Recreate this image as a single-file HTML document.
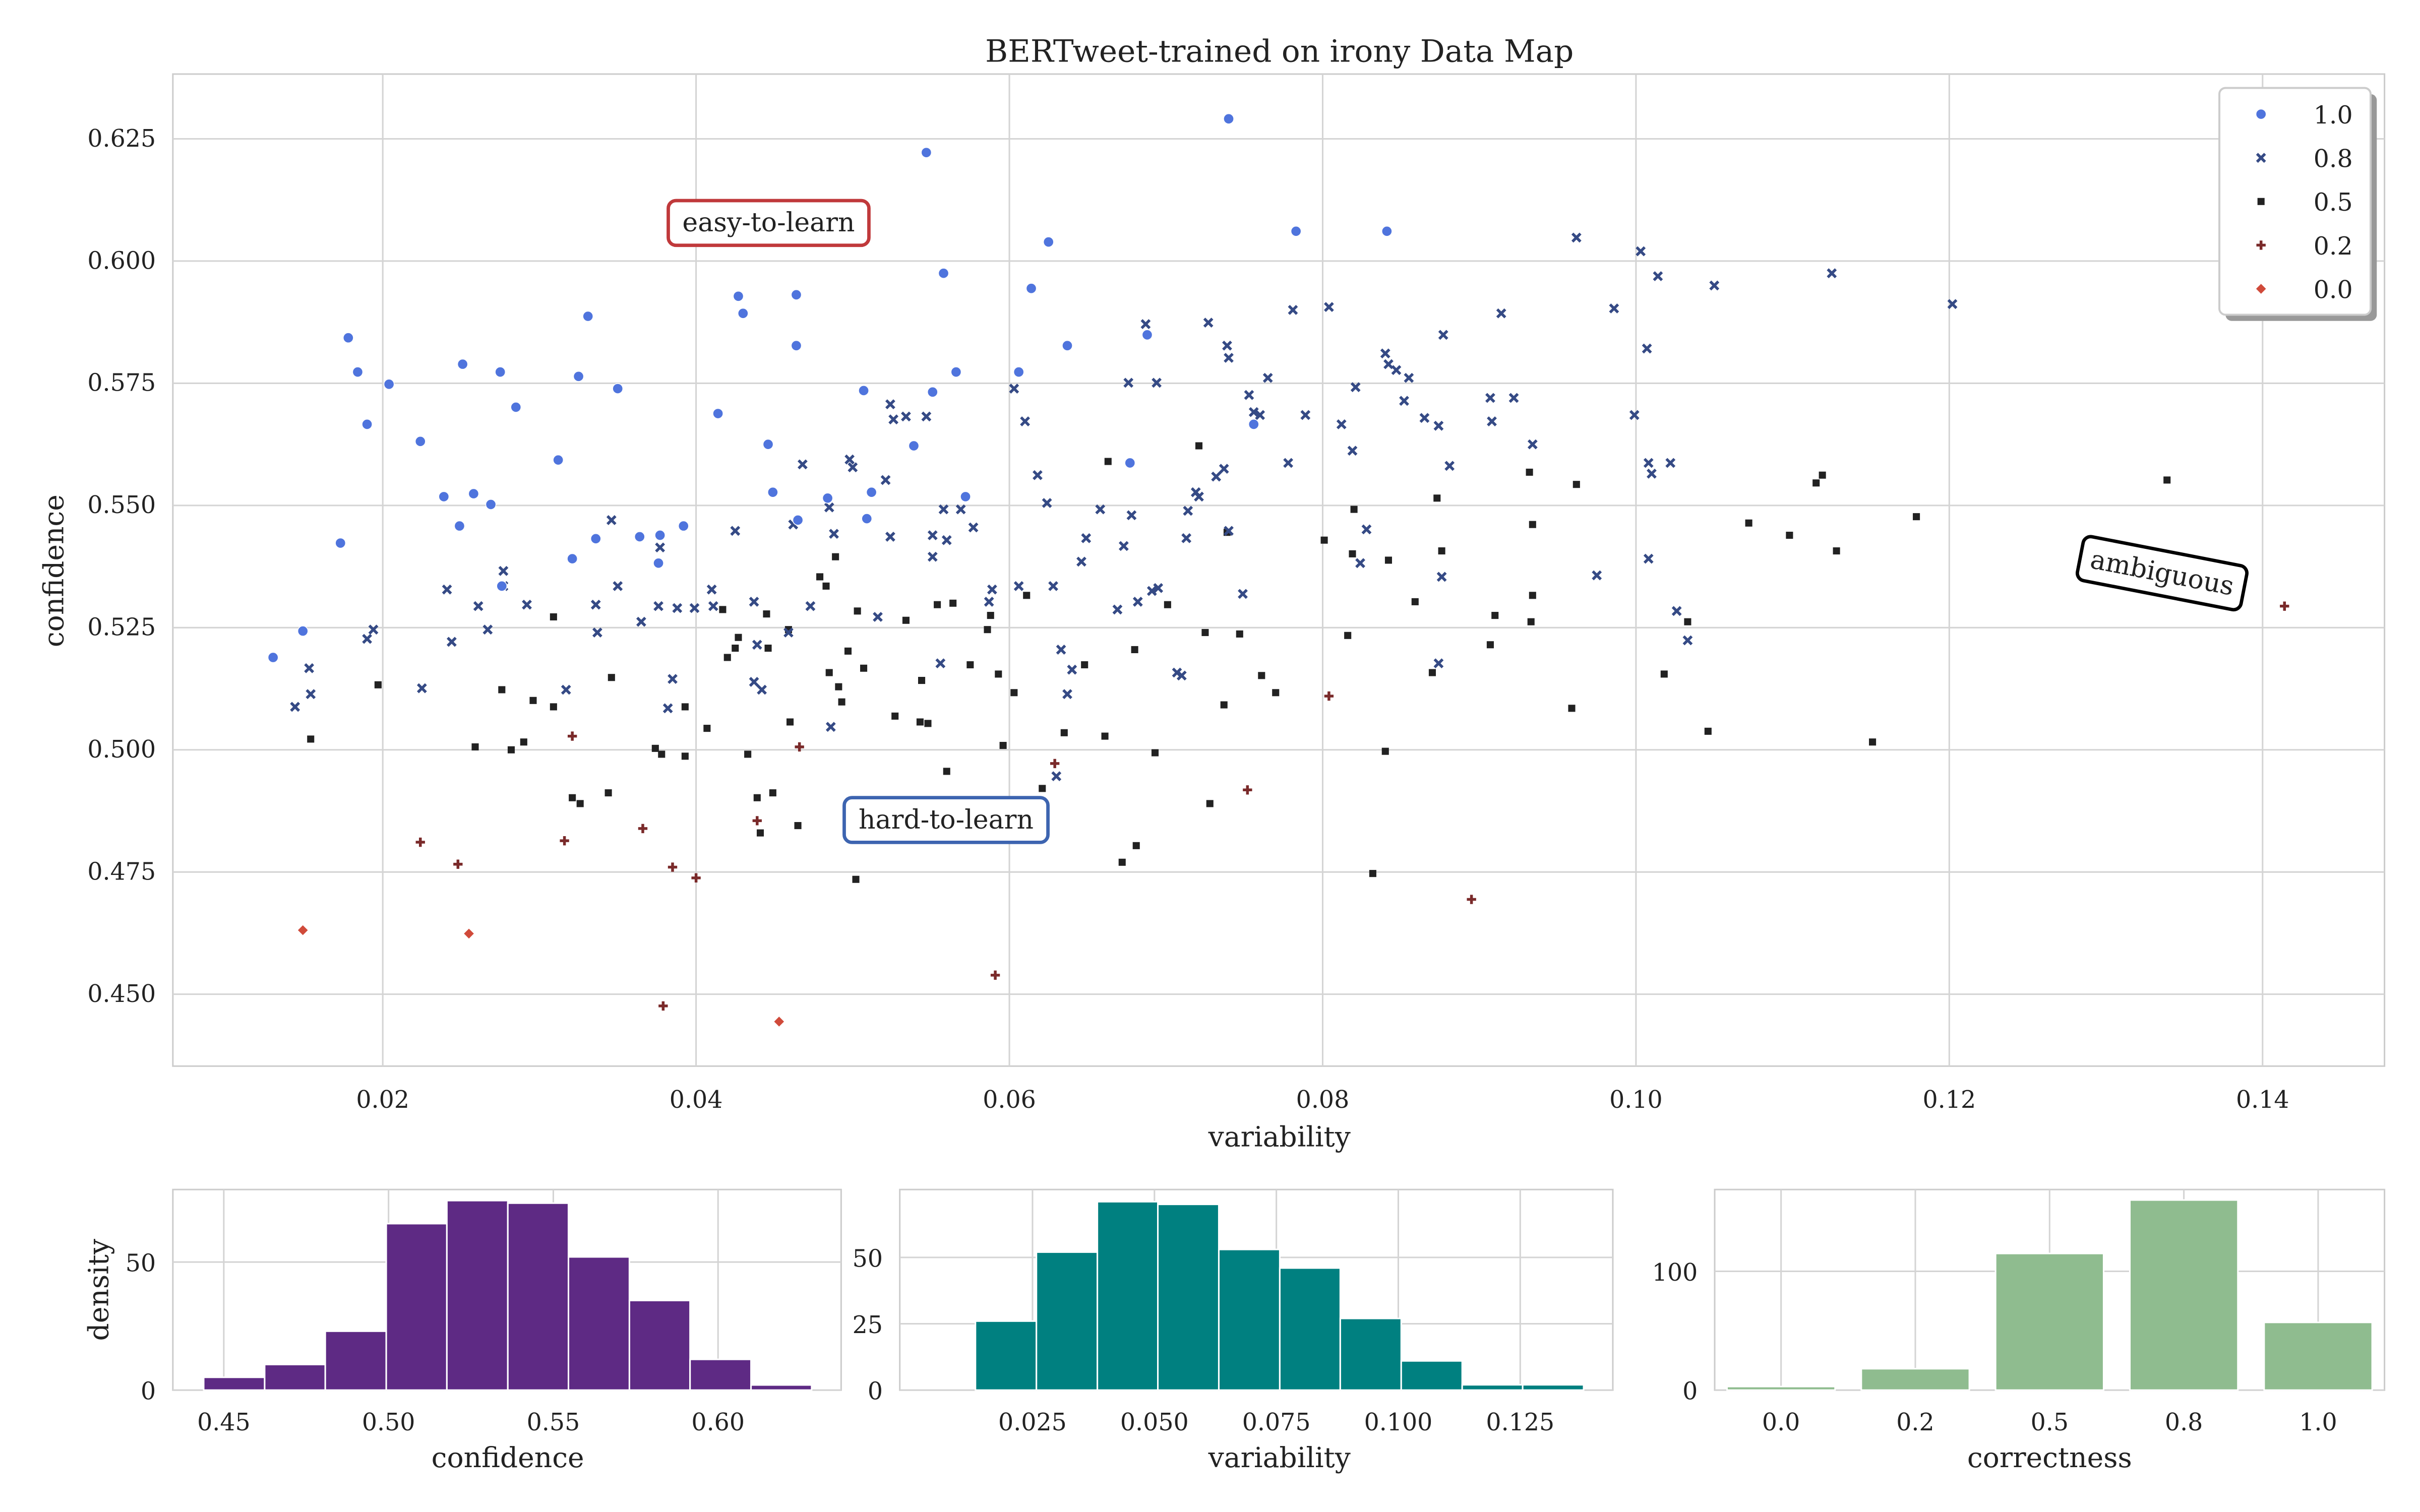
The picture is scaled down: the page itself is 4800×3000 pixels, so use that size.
<!DOCTYPE html>
<html><head><meta charset="utf-8">
<style>
html,body{margin:0;padding:0;background:#fff;}
svg{display:block;}
text{font-family:"DejaVu Serif","Liberation Serif",serif;fill:#222;}
</style></head>
<body>
<svg id="chart" xmlns="http://www.w3.org/2000/svg" width="4800" height="3000" viewBox="0 0 1568 980">
<rect x="0" y="0" width="1568" height="980" fill="#fff"/>
<g id="main"></g>
<g id="h1"></g>
<g id="h2"></g>
<g id="h3"></g>
</svg>
<script>
// ---------- data ----------
const blueX=[0.0130,0.0149,0.0178,0.0184,0.0190,0.0173,0.0204,0.0224,0.0239,0.0249,0.0251,0.0258,0.0269,0.0275,0.0276,0.0285,0.0312,0.0321,0.0325,0.0331,0.0336,0.0350,0.0364,0.0376,0.0377,0.0392,0.0414,0.0427,0.0430,0.0446,0.0449,0.0464,0.0464,0.0465,0.0484,0.0507,0.0509,0.0512,0.0539,0.0547,0.0551,0.0558,0.0566,0.0572,0.0606,0.0614,0.0625,0.0637,0.0677,0.0688,0.0740,0.0756,0.0783,0.0841];
const blueY=[0.5189,0.5243,0.5843,0.5773,0.5666,0.5423,0.5748,0.5631,0.5518,0.5458,0.5789,0.5524,0.5502,0.5773,0.5335,0.5701,0.5593,0.5391,0.5764,0.5887,0.5432,0.5739,0.5436,0.5382,0.5439,0.5458,0.5688,0.5928,0.5893,0.5625,0.5527,0.5827,0.5931,0.5470,0.5515,0.5735,0.5473,0.5527,0.5622,0.6222,0.5732,0.5975,0.5773,0.5518,0.5773,0.5944,0.6039,0.5827,0.5587,0.5849,0.6291,0.5666,0.6061,0.6061];
const navyX=[0.0144,0.0153,0.0154,0.0190,0.0194,0.0225,0.0241,0.0244,0.0267,0.0261,0.0277,0.0277,0.0292,0.0317,0.0336,0.0337,0.0346,0.0350,0.0365,0.0376,0.0377,0.0382,0.0385,0.0388,0.0399,0.0410,0.0411,0.0425,0.0437,0.0437,0.0439,0.0442,0.0459,0.0462,0.0468,0.0473,0.0486,0.0485,0.0488,0.0498,0.0500,0.0516,0.0521,0.0524,0.0524,0.0526,0.0534,0.0551,0.0547,0.0551,0.0556,0.0558,0.0560,0.0569,0.0577,0.0587,0.0589,0.0603,0.0606,0.0610,0.0618,0.0624,0.0628,0.0630,0.0633,0.0637,0.0640,0.0646,0.0649,0.0658,0.0669,0.0673,0.0676,0.0678,0.0682,0.0687,0.0691,0.0695,0.0694,0.0707,0.0710,0.0713,0.0714,0.0719,0.0721,0.0727,0.0732,0.0737,0.0740,0.0739,0.0740,0.0749,0.0753,0.0756,0.0760,0.0765,0.0778,0.0781,0.0789,0.0804,0.0812,0.0819,0.0821,0.0824,0.0828,0.0840,0.0842,0.0847,0.0852,0.0855,0.0865,0.0874,0.0874,0.0876,0.0877,0.0881,0.0907,0.0908,0.0914,0.0922,0.0934,0.0962,0.0975,0.0986,0.0999,0.1003,0.1008,0.1007,0.1010,0.1014,0.1022,0.1026,0.1033,0.1050,0.1125,0.1202,0.1008];
const navyY=[0.5088,0.5167,0.5114,0.5227,0.5246,0.5126,0.5328,0.5221,0.5246,0.5294,0.5335,0.5366,0.5297,0.5123,0.5297,0.5240,0.5470,0.5335,0.5262,0.5294,0.5414,0.5085,0.5145,0.5290,0.5290,0.5328,0.5294,0.5448,0.5139,0.5303,0.5215,0.5123,0.5240,0.5461,0.5584,0.5294,0.5047,0.5496,0.5442,0.5594,0.5578,0.5272,0.5552,0.5707,0.5436,0.5676,0.5682,0.5439,0.5682,0.5395,0.5177,0.5492,0.5429,0.5492,0.5455,0.5303,0.5328,0.5739,0.5335,0.5672,0.5562,0.5505,0.5335,0.4946,0.5205,0.5114,0.5164,0.5385,0.5433,0.5492,0.5287,0.5417,0.5751,0.5480,0.5303,0.5871,0.5325,0.5331,0.5751,0.5158,0.5152,0.5433,0.5489,0.5527,0.5518,0.5874,0.5559,0.5575,0.5448,0.5827,0.5802,0.5319,0.5726,0.5691,0.5685,0.5761,0.5587,0.5900,0.5685,0.5906,0.5666,0.5612,0.5742,0.5382,0.5451,0.5811,0.5789,0.5777,0.5714,0.5761,0.5679,0.5663,0.5177,0.5354,0.5849,0.5581,0.5720,0.5672,0.5893,0.5720,0.5625,0.6048,0.5357,0.5903,0.5685,0.6020,0.5587,0.5821,0.5565,0.5969,0.5587,0.5284,0.5224,0.5950,0.5975,0.5912,0.5391];
const blackX=[0.0154,0.0197,0.0259,0.0276,0.0282,0.0290,0.0296,0.0309,0.0309,0.0321,0.0326,0.0344,0.0346,0.0374,0.0378,0.0393,0.0393,0.0407,0.0417,0.0420,0.0425,0.0427,0.0433,0.0439,0.0441,0.0445,0.0446,0.0449,0.0459,0.0460,0.0465,0.0479,0.0483,0.0485,0.0489,0.0491,0.0493,0.0497,0.0503,0.0502,0.0507,0.0527,0.0534,0.0543,0.0548,0.0544,0.0554,0.0560,0.0564,0.0575,0.0586,0.0588,0.0593,0.0596,0.0603,0.0611,0.0621,0.0635,0.0648,0.0661,0.0663,0.0680,0.0681,0.0693,0.0701,0.0721,0.0725,0.0728,0.0737,0.0739,0.0747,0.0761,0.0770,0.0801,0.0816,0.0820,0.0819,0.0832,0.0840,0.0842,0.0859,0.0870,0.0873,0.0876,0.0907,0.0910,0.0933,0.0934,0.0932,0.0934,0.0959,0.0962,0.1018,0.1033,0.1046,0.1072,0.1098,0.1115,0.1119,0.1128,0.1151,0.1179,0.1339,0.0672];
const blackY=[0.5022,0.5133,0.5006,0.5123,0.5000,0.5016,0.5101,0.5272,0.5088,0.4902,0.4890,0.4912,0.5148,0.5003,0.4991,0.4987,0.5088,0.5044,0.5287,0.5189,0.5208,0.5230,0.4991,0.4902,0.4830,0.5278,0.5208,0.4912,0.5246,0.5057,0.4845,0.5354,0.5335,0.5158,0.5395,0.5129,0.5098,0.5202,0.5284,0.4735,0.5167,0.5069,0.5265,0.5057,0.5054,0.5142,0.5297,0.4956,0.5300,0.5174,0.5246,0.5275,0.5155,0.5009,0.5117,0.5316,0.4921,0.5035,0.5174,0.5028,0.5590,0.5205,0.4804,0.4994,0.5297,0.5622,0.5240,0.4890,0.5092,0.5445,0.5237,0.5152,0.5117,0.5429,0.5234,0.5492,0.5401,0.4747,0.4997,0.5388,0.5303,0.5158,0.5515,0.5407,0.5215,0.5275,0.5262,0.5316,0.5568,0.5461,0.5085,0.5543,0.5155,0.5262,0.5038,0.5464,0.5439,0.5546,0.5562,0.5407,0.5016,0.5477,0.5552,0.4770];
const plusX=[0.0224,0.0248,0.0321,0.0316,0.0366,0.0385,0.0400,0.0379,0.0439,0.0466,0.0591,0.0629,0.0752,0.0804,0.0895,0.1414];
const plusY=[0.4811,0.4766,0.5028,0.4814,0.4839,0.4760,0.4738,0.4476,0.4855,0.5006,0.4539,0.4972,0.4918,0.5110,0.4694,0.5294];
const redX=[0.0149,0.0255,0.0453];
const redY=[0.4631,0.4624,0.4444];
const xTicks=[0.02,0.04,0.06,0.08,0.10,0.12,0.14];
const xTickLabels=["0.02","0.04","0.06","0.08","0.10","0.12","0.14"];
const yTicks=[0.450,0.475,0.500,0.525,0.550,0.575,0.600,0.625];
const yTickLabels=["0.450","0.475","0.500","0.525","0.550","0.575","0.600","0.625"];

const confEdges=[0.4439,0.4624,0.4808,0.4993,0.5177,0.5362,0.5546,0.5731,0.5915,0.6100,0.6284];
const confCounts=[5,10,23,65,74,73,52,35,12,2];
const confTicks=[0.45,0.50,0.55,0.60];
const confTickLabels=["0.45","0.50","0.55","0.60"];
const confYTicks=[0,50];
const varEdges=[0.0133,0.0258,0.0383,0.0507,0.0632,0.0757,0.0881,0.1006,0.1131,0.1255,0.1380];
const varCounts=[26,52,71,70,53,46,27,11,2,2];
const varTicks=[0.025,0.050,0.075,0.100,0.125];
const varTickLabels=["0.025","0.050","0.075","0.100","0.125"];
const varYTicks=[0,25,50];
const corrCats=["0.0","0.2","0.5","0.8","1.0"];
const corrCounts=[3,18,115,160,57];
const corrYTicks=[0,100];

// ---------- helpers ----------
const NS="http://www.w3.org/2000/svg";
function mk(parent,tag,attrs,txt){const e=document.createElementNS(NS,tag);for(const k in attrs)e.setAttribute(k,attrs[k]);if(txt!==undefined)e.textContent=txt;parent.appendChild(e);return e;}
const GRID="#d4d4d4";

// ---------- main scatter ----------
const M={l:112,r:1545,t:48,b:691};
const xs=v=>248+(v-0.02)*10150;
const ys=v=>486-(v-0.5)*3168;
const main=document.getElementById('main');
mk(main,'rect',{x:M.l,y:M.t,width:M.r-M.l,height:M.b-M.t,fill:'#fff',stroke:'#cccccc','stroke-width':1});
xTicks.forEach((t,i)=>{
  const g=mk(main,'line',{x1:xs(t),x2:xs(t),y1:M.t,y2:M.b,stroke:GRID,'stroke-width':1});
  
  const l=mk(main,'text',{x:xs(t),y:718,'font-size':15.5,'text-anchor':'middle'},xTickLabels[i]);
  
});
yTicks.forEach((t,i)=>{
  const g=mk(main,'line',{x1:M.l,x2:M.r,y1:ys(t),y2:ys(t),stroke:GRID,'stroke-width':1});
  
  const l=mk(main,'text',{x:101,y:ys(t)+5,'font-size':15.5,'text-anchor':'end'},yTickLabels[i]);
  
});
let e;
e=mk(main,'text',{x:829,y:40,'font-size':20,'text-anchor':'middle'},'BERTweet-trained on irony Data Map');

e=mk(main,'text',{x:829,y:743,'font-size':18,'text-anchor':'middle'},'variability');

e=mk(main,'text',{x:41,y:370,'font-size':18,'text-anchor':'middle',transform:'rotate(-90 41 370)'},'confidence');


const C={blue:'#4f74dd',navy:'#354a85',black:'#222222',dred:'#7a2a2a',red:'#d04a3a'};
function drawMarker(g,kind,cx,cy){
  let m;
  if(kind==='dot'){m=mk(g,'circle',{cx:cx,cy:cy,r:3.3,fill:C.blue,stroke:'#fff','stroke-width':0.5});}
  else if(kind==='x'){m=mk(g,'path',{d:`M${cx-2.6},${cy-2.6}L${cx+2.6},${cy+2.6}M${cx-2.6},${cy+2.6}L${cx+2.6},${cy-2.6}`,stroke:C.navy,'stroke-width':1.8,fill:'none'});}
  else if(kind==='sq'){m=mk(g,'rect',{x:cx-2.3,y:cy-2.3,width:4.6,height:4.6,fill:C.black});}
  else if(kind==='plus'){m=mk(g,'path',{d:`M${cx-3},${cy}L${cx+3},${cy}M${cx},${cy-3}L${cx},${cy+3}`,stroke:C.dred,'stroke-width':1.8,fill:'none'});}
  else {m=mk(g,'path',{d:`M${cx},${cy-3.2}L${cx+3.2},${cy}L${cx},${cy+3.2}L${cx-3.2},${cy}Z`,fill:C.red});}
  return m;
}
function series(name,kind,X,Y){
  const g=mk(main,'g',{});
  
  
  X.forEach((v,i)=>{const m=drawMarker(g,kind,xs(v),ys(Y[i]));
    
    });
}
series('series-correctness-0.5','sq',blackX,blackY);
series('series-correctness-0.8','x',navyX,navyY);
series('series-correctness-1.0','dot',blueX,blueY);
series('series-correctness-0.2','plus',plusX,plusY);
series('series-correctness-0.0','diamond',redX,redY);

// annotations
function box(name,cx,cy,w,txt,col,rot){
  const g=mk(main,'g',{transform:`rotate(${rot} ${cx} ${cy})`});
  
  mk(g,'rect',{x:cx-w/2,y:cy-14,width:w,height:29,rx:5,fill:'#fff',stroke:col,'stroke-width':2.2});
  mk(g,'text',{x:cx,y:cy+6,'font-size':17,'text-anchor':'middle'},txt);
}
box('easy-to-learn-annotation',498,144,130,'easy-to-learn','#c0393b',0);
box('hard-to-learn-annotation',613,531,132,'hard-to-learn','#3d64b0',0);
box('ambiguous-annotation',1401,371,108,'ambiguous','#000',11);

// legend
const lg=mk(main,'g',{});

mk(lg,'rect',{x:1442,y:61,width:98,height:147,rx:4,fill:'#999'});
mk(lg,'rect',{x:1438,y:57,width:98,height:147,rx:4,fill:'#fff',stroke:'#cccccc','stroke-width':1.3});
const legKinds=['dot','x','sq','plus','diamond'];
const legLabels=['1.0','0.8','0.5','0.2','0.0'];
legKinds.forEach((k,i)=>{
  const yy=74+i*28.3;
  const m=drawMarker(lg,k,1465,yy);
  
  const t=mk(lg,'text',{x:1499,y:yy+6,'font-size':16},legLabels[i]);
  
});

// ---------- histograms ----------
function hist(id,fr,xsF,ysF,edges,counts,xt,xtl,yt,color,xlabel,xlabelX,ylabel){
  const g=document.getElementById(id);
  mk(g,'rect',{x:fr.l,y:fr.t,width:fr.r-fr.l,height:fr.b-fr.t,fill:'#fff',stroke:'#cccccc','stroke-width':1});
  xt.forEach((t,i)=>{
    mk(g,'line',{x1:xsF(t),x2:xsF(t),y1:fr.t,y2:fr.b,stroke:GRID,'stroke-width':1});
    const l=mk(g,'text',{x:xsF(t),y:927,'font-size':15.5,'text-anchor':'middle'},xtl[i]);
    
  });
  yt.forEach(t=>{
    mk(g,'line',{x1:fr.l,x2:fr.r,y1:ysF(t),y2:ysF(t),stroke:GRID,'stroke-width':1});
    const l=mk(g,'text',{x:fr.l-11,y:ysF(t)+6,'font-size':15.5,'text-anchor':'end'},String(t));
    
  });
  counts.forEach((c,i)=>{
    const x0=edges[i].x0,x1=edges[i].x1;
    const b=mk(g,'rect',{x:x0,y:ysF(c),width:x1-x0,height:ysF(0)-ysF(c),fill:color,stroke:'#fff','stroke-width':1});
    
  });
  const xl=mk(g,'text',{x:xlabelX,y:951,'font-size':18,'text-anchor':'middle'},xlabel);
  
  if(ylabel){const yl=mk(g,'text',{x:70,y:836,'font-size':18,'text-anchor':'middle',transform:'rotate(-90 70 836)'},ylabel);
    }
}
const F1={l:112,r:545,t:771,b:901};
const x1s=v=>145+(v-0.45)*2135, y1s=v=>901-v*1.66;
hist('h1',F1,x1s,y1s,confCounts.map((c,i)=>({x0:x1s(confEdges[i]),x1:x1s(confEdges[i+1])})),confCounts,confTicks,confTickLabels,confYTicks,'#5e2a84','confidence',329,'density');
const F2={l:583,r:1045,t:771,b:901};
const x2s=v=>669+(v-0.025)*3160, y2s=v=>901-v*1.72;
hist('h2',F2,x2s,y2s,varCounts.map((c,i)=>({x0:x2s(varEdges[i]),x1:x2s(varEdges[i+1])})),varCounts,varTicks,varTickLabels,varYTicks,'#008080','variability',829,null);
const F3={l:1111,r:1545,t:771,b:901};
const x3s=i=>1154+i*87, y3s=v=>901-v*0.77;
hist('h3',F3,x3s,y3s,corrCats.map((c,i)=>({x0:x3s(i)-35,x1:x3s(i)+35})),corrCounts,corrCats.map((c,i)=>i),corrCats,corrYTicks,'#8fbc8f','correctness',1328,null);
</script>
</body></html>
